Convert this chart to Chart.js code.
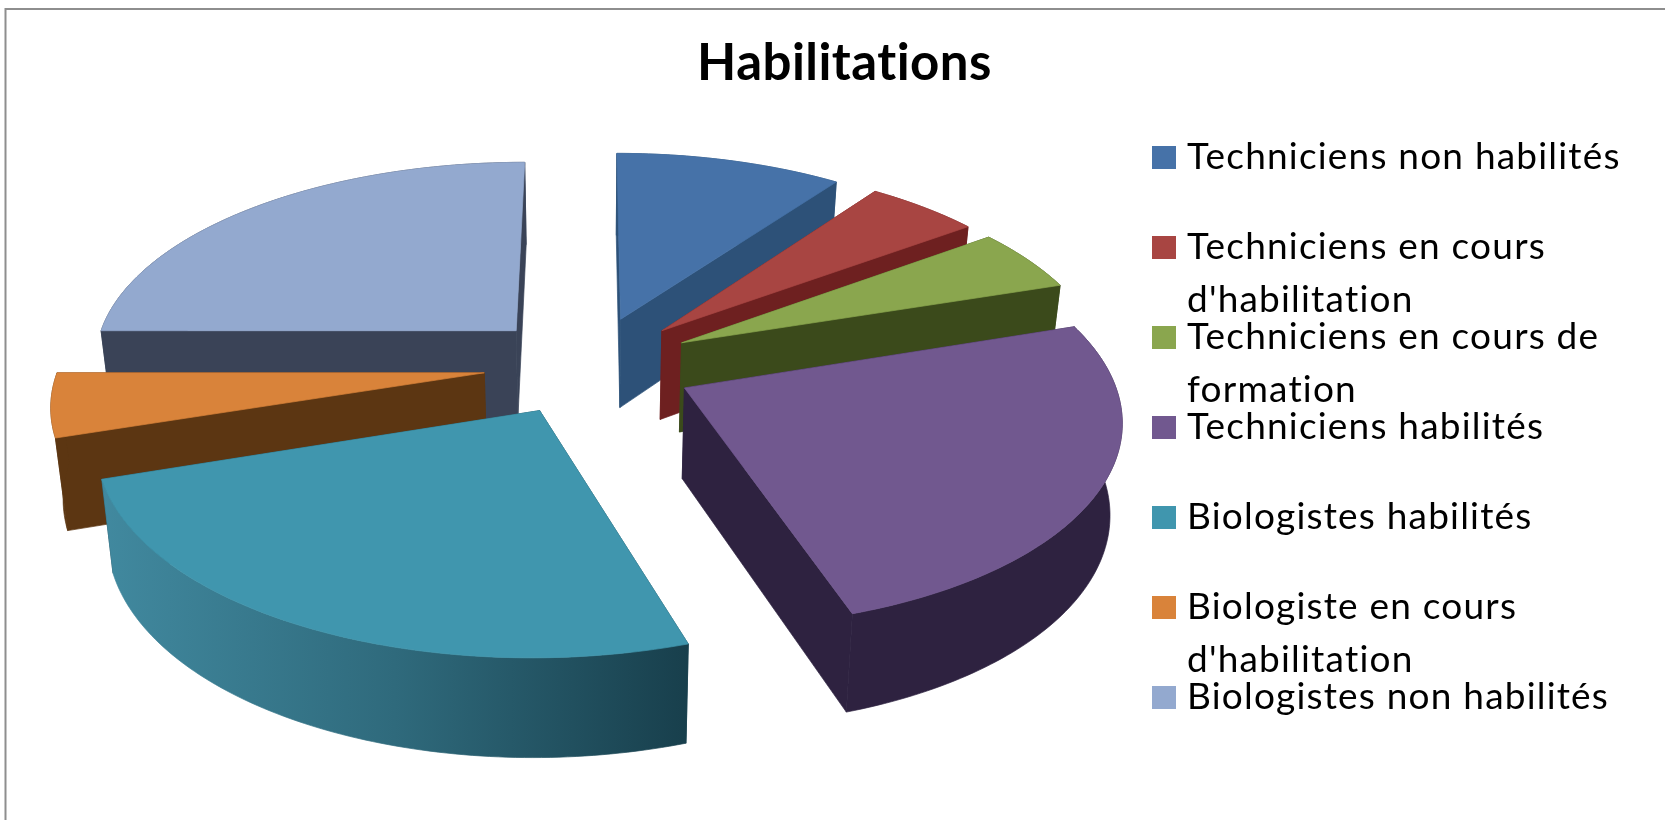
<!DOCTYPE html>
<html>
<head>
<meta charset="utf-8">
<title>Habilitations</title>
<script src="https://cdn.jsdelivr.net/npm/chart.js@4"></script>
<style>
    body { margin: 0; background: #fff; }
    #wrap { width: 1665px; height: 820px; }
</style>
</head>
<body>
<div id="wrap"><canvas id="habilitations"></canvas></div>
<script>
const categories = ['Techniciens non habilités', "Techniciens en cours d'habilitation", 'Techniciens en cours de formation', 'Techniciens habilités', 'Biologistes habilités', "Biologiste en cours d'habilitation", 'Biologistes non habilités'];
const legendLines = [['Techniciens non habilités'], ['Techniciens en cours', "d'habilitation"], ['Techniciens en cours de', 'formation'], ['Techniciens habilités'], ['Biologistes habilités'], ['Biologiste en cours', "d'habilitation"], ['Biologistes non habilités']];
const values = [10, 5, 5, 25, 25, 5, 25];

const topColors = ['#4672a8', '#a84542', '#8aa64e', '#71588f', '#4096ae', '#d9833a', '#93a9cf'];
const faceColors = ['#2d5178', '#6e2020', '#3b4a1b', '#2e2240', '#1a4452', '#5c3612', '#3a4357'];
const wallColors = ['#2d5178', '#6e2020', '#3b4a1b', '#2e2240', null, '#5c3612', '#3a4357'];

// back to front, so nearer slices cover the ones behind
const drawOrder = [6, 0, 1, 2, 5, 3, 4];

// fake 3D view of the ground plane
const view = { cx: 589, cy: 365, a: 425, b: 200, k: 0.136, height: 90, kh: 0.08, converge: 0.977 };

function project(u, v, down) {
    const s = 1 / (1 - view.k * v);
    const x = view.a * u * s;
    return {
        x: view.cx + (down ? x * view.converge : x),
        y: view.cy + view.b * v * s + (down ? view.height / (1 - view.kh * v) : 0)
    };
}

function fillPoly(ctx, pts, fill) {
    ctx.beginPath();
    pts.forEach((p, i) => i ? ctx.lineTo(p.x, p.y) : ctx.moveTo(p.x, p.y));
    ctx.closePath();
    ctx.fillStyle = fill;
    ctx.strokeStyle = fill;
    ctx.lineWidth = 0.7;
    ctx.fill();
    ctx.stroke();
}

function drawSlice(ctx, arc, i) {
    const props = arc.getProps(['startAngle', 'endAngle', 'outerRadius'], true);
    const mid = (props.startAngle + props.endAngle) / 2;
    const e = arc.options.offset / props.outerRadius;
    const ou = Math.cos(mid) * e;
    const ov = Math.sin(mid) * e;

    const rim = [];
    const steps = Math.ceil((props.endAngle - props.startAngle) / (Math.PI / 180));
    for (let s = 0; s <= steps; s++) {
        const t = props.startAngle + (props.endAngle - props.startAngle) * s / steps;
        rim.push([ou + Math.cos(t), ov + Math.sin(t)]);
    }
    const first = rim[0];
    const last = rim[rim.length - 1];
    const at = (p, down) => project(p[0], p[1], down);
    const apex = [ou, ov];

    const walls = [
        { v: (apex[1] + first[1]) / 2, pts: [at(apex), at(first), at(first, true), at(apex, true)], fill: faceColors[i] },
        { v: (apex[1] + last[1]) / 2, pts: [at(apex), at(last), at(last, true), at(apex, true)], fill: faceColors[i] }
    ];

    let wallFill = wallColors[i];
    if (!wallFill) {
        const left = at(last);
        const right = at(first);
        wallFill = ctx.createLinearGradient(left.x, 0, right.x, 0);
        wallFill.addColorStop(0, '#41899f');
        wallFill.addColorStop(0.5, '#2f6a7c');
        wallFill.addColorStop(1, '#183f4c');
    }
    walls.push({
        v: rim[Math.floor(rim.length / 2)][1],
        pts: rim.map(p => at(p)).concat(rim.slice().reverse().map(p => at(p, true))),
        fill: wallFill
    });

    walls.sort((w1, w2) => w1.v - w2.v).forEach(w => fillPoly(ctx, w.pts, w.fill));
    fillPoly(ctx, [at(apex)].concat(rim.map(p => at(p))), topColors[i]);
}

const pie3d = {
    id: 'pie3d',
    beforeDraw(chart) {
        const ctx = chart.ctx;
        ctx.save();
        ctx.strokeStyle = '#8e8e8e';
        ctx.lineWidth = 2;
        ctx.beginPath();
        ctx.moveTo(1665, 9);
        ctx.lineTo(5.5, 9);
        ctx.lineTo(5.5, 820);
        ctx.stroke();
        ctx.restore();
        // also stops the "ti" ligature in the title
        ctx.letterSpacing = '0.45px';
    },
    beforeDatasetDraw(chart, args) {
        const ctx = chart.ctx;
        const arcs = args.meta.data;
        ctx.save();
        drawOrder.forEach(i => drawSlice(ctx, arcs[i], i));
        ctx.restore();
        return false;
    },
    afterDraw(chart) {
        const ctx = chart.ctx;
        ctx.save();
        ctx.font = '37px Lato';
        ctx.letterSpacing = '1.2px';
        ctx.textBaseline = 'alphabetic';
        legendLines.forEach((lines, i) => {
            ctx.fillStyle = topColors[i];
            ctx.fillRect(1152, 146 + 90 * i, 24, 23);
            ctx.fillStyle = '#000';
            lines.forEach((line, j) => ctx.fillText(line, 1187, 169 + 90 * i + 53 * j));
        });
        ctx.restore();
    }
};

new Chart(document.getElementById('habilitations'), {
    type: 'pie',
    data: {
        labels: categories,
        datasets: [{
            data: values,
            backgroundColor: topColors,
            borderWidth: 0,
            offset: 79
        }]
    },
    options: {
        responsive: true,
        maintainAspectRatio: false,
        animation: false,
        layout: { padding: { left: 24 } },
        plugins: {
            legend: { display: false },
            tooltip: { enabled: false },
            title: {
                display: true,
                text: 'Habilitations',
                color: '#000',
                font: { family: 'Lato', size: 51, weight: 'bold' },
                padding: { top: 33, bottom: 10 }
            }
        }
    },
    plugins: [pie3d]
});
</script>
</body>
</html>
